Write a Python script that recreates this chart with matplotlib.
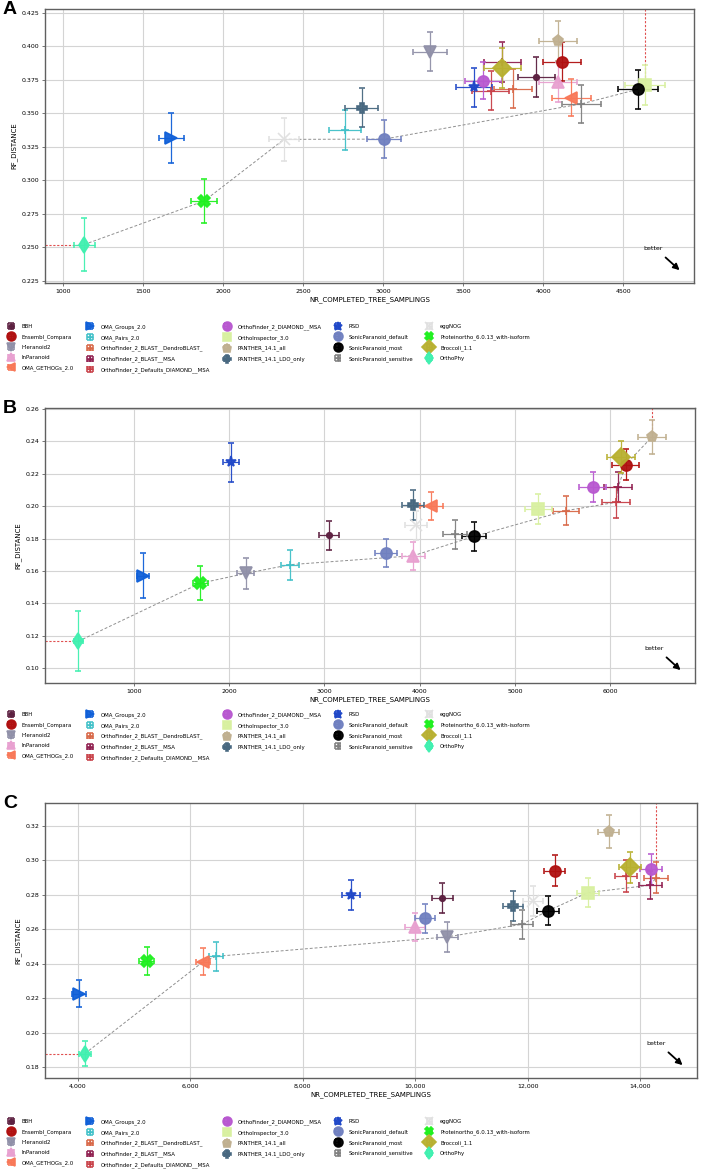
import numpy as np
import matplotlib
matplotlib.use('Agg')
import matplotlib.pyplot as plt
from matplotlib.ticker import MultipleLocator, FuncFormatter

plt.rcParams['font.family'] = 'DejaVu Sans'
plt.rcParams['font.size'] = 4.5

METHODS = ['BBH', 'Ensembl_Compara', 'Hieranoid2', 'InParanoid', 'OMA_GETHOGs_2.0',
           'OMA_Groups_2.0', 'OMA_Pairs_2.0', 'OrthoFinder_2_BLAST__DendroBLAST_',
           'OrthoFinder_2_BLAST__MSA', 'OrthoFinder_2_Defaults_DIAMOND__MSA',
           'OrthoFinder_2_DIAMOND__MSA', 'OrthoInspector_3.0', 'PANTHER_14.1_all',
           'PANTHER_14.1_LDO_only', 'RSD', 'SonicParanoid_default', 'SonicParanoid_most',
           'SonicParanoid_sensitive', 'eggNOG', 'Proteinortho_6.0.13_with-isoform',
           'Broccoli_1.1', 'OrthoPhy']

COLORS = ['#5c2040', '#b01010', '#9090a8', '#e8a0d0', '#f87858',
          '#1060d8', '#40c0c8', '#d86848', '#902050', '#c84048',
          '#b858d0', '#d8f0a0', '#c0b090', '#486880', '#2048c8',
          '#7080c0', '#000000', '#808080', '#e0e0e0', '#20f020',
          '#b8b030', '#40f0b0']

MARKERS = ['o', 'o', 'v', '^', '<', '>', '+', '+', '+', '+', 'o', 's', 'p', 'P', '*',
           'o', 'o', '+', 'x', 'X', 'D', 'd']
MSIZES = [4, 8, 8, 8, 8, 8, 6, 6, 6, 6, 8, 8, 8, 7, 8, 8, 8, 6, 8, 8, 9, 8]

# panel A
A_X = [3958, 4121, 3292, 4094, 4177, 1675, 2760, 3813, 3746, 3672, 3626, 4636, 4094, 2865,
       3567, 3006, 4594, 4240, 2380, 1880, 3746, 1130]
A_Y = [0.3769, 0.3885, 0.3960, 0.3736, 0.3617, 0.3315, 0.3373, 0.3682, 0.3885, 0.3669,
       0.3743, 0.3711, 0.4039, 0.3542, 0.3694, 0.3307, 0.3679, 0.3570, 0.3305, 0.2845,
       0.3838, 0.2520]
A_XERR = [117, 119, 108, 119, 120, 78, 100, 118, 115, 115, 115, 125, 119, 104, 112, 105,
          125, 120, 96, 82, 115, 65]
A_YERR = [0.0150, 0.0147, 0.0147, 0.0150, 0.0137, 0.0190, 0.0150, 0.0145, 0.0150, 0.0143,
          0.0140, 0.0150, 0.0147, 0.0145, 0.0145, 0.0140, 0.0147, 0.0143, 0.0160, 0.0162,
          0.0150, 0.0197]

# panel B
B_X = [3047, 6162, 2173, 3933, 4123, 1091, 2638, 5538, 6085, 6060, 5815, 5245, 6435, 3933,
       2018, 3646, 4570, 4370, 3961, 1693, 6113, 415]
B_Y = [0.1820, 0.2255, 0.1585, 0.1694, 0.2000, 0.1571, 0.1639, 0.1972, 0.2118, 0.2023,
       0.2115, 0.1982, 0.2423, 0.2007, 0.2269, 0.1711, 0.1813, 0.1826, 0.1882, 0.1524,
       0.2302, 0.1167]
B_XERR = [103, 145, 92, 120, 120, 65, 98, 137, 145, 145, 140, 140, 147, 116, 88, 117, 131,
          129, 120, 79, 143, 50]
B_YERR = [0.0088, 0.0096, 0.0094, 0.0085, 0.0086, 0.0139, 0.0092, 0.0090, 0.0093, 0.0095,
          0.0093, 0.0090, 0.0105, 0.0092, 0.0120, 0.0086, 0.0088, 0.0090, 0.0090, 0.0105,
          0.0101, 0.0185]

# panel C
C_X = [10483, 12474, 10572, 9992, 6233, 4028, 6459, 14282, 14175, 13749, 14188, 13068,
       13435, 11734, 8854, 10175, 12356, 11894, 12090, 5227, 13820, 4130]
C_Y = [0.2781, 0.2938, 0.2555, 0.2614, 0.2412, 0.2226, 0.2442, 0.2899, 0.2855, 0.2907,
       0.2947, 0.2812, 0.3165, 0.2732, 0.2798, 0.2663, 0.2706, 0.2628, 0.2761, 0.2414,
       0.2960, 0.1878]
C_XERR = [178, 193, 178, 175, 125, 127, 130, 213, 207, 194, 193, 200, 193, 183, 162, 175,
          192, 190, 185, 133, 195, 100]
C_YERR = [0.0087, 0.0090, 0.0085, 0.0080, 0.0080, 0.0077, 0.0083, 0.0090, 0.0082, 0.0092,
          0.0089, 0.0085, 0.0095, 0.0087, 0.0089, 0.0085, 0.0084, 0.0085, 0.0087, 0.0082,
          0.0090, 0.0072]

PANELS = [
    dict(label='A', x=A_X, y=A_Y, xerr=A_XERR, yerr=A_YERR, xlim=(885, 4944),
         ylim=(0.2233, 0.4278), xstep=500, ystep=0.025, yfmt='{:.3f}', comma=False,
         box=(45, 9, 694, 283), legend_row=327),
    dict(label='B', x=B_X, y=B_Y, xerr=B_XERR, yerr=B_YERR, xlim=(65, 6891),
         ylim=(0.091, 0.2604), xstep=1000, ystep=0.02, yfmt='{:.2f}', comma=False,
         box=(45, 408, 695, 683), legend_row=715),
    dict(label='C', x=C_X, y=C_Y, xerr=C_XERR, yerr=C_YERR, xlim=(3419, 15006),
         ylim=(0.1736, 0.3332), xstep=2000, ystep=0.02, yfmt='{:.2f}', comma=True,
         box=(45, 803, 697, 1078), legend_row=1122),
]

W, H = 703, 1172


def pareto_front(xs, ys):
    """points not beaten by any other one (more samplings, lower distance)"""
    order = np.argsort(xs)[::-1]
    front = []
    best = np.inf
    for i in order:
        if ys[i] < best:
            front.append(i)
            best = ys[i]
    return front[::-1]


fig = plt.figure(figsize=(W / 100, H / 100), dpi=100)

for p in PANELS:
    l, t, r, b = p['box']
    ax = fig.add_axes([l / W, 1 - b / H, (r - l) / W, (b - t) / H])
    ax.set_xlim(*p['xlim'])
    ax.set_ylim(*p['ylim'])

    ax.grid(True, color='#d4d4d4', linewidth=0.8)
    ax.set_axisbelow(True)
    for s in ax.spines.values():
        s.set_color('#606060')
        s.set_linewidth(1.0)

    xs = np.array(p['x'], dtype=float)
    ys = np.array(p['y'], dtype=float)

    # pareto front + guide lines
    idx = pareto_front(xs, ys)
    ax.plot(xs[idx], ys[idx], linestyle='--', color='#909090', linewidth=0.7,
            dashes=(3, 2), zorder=1)
    ax.plot([p['xlim'][0], xs[idx[0]]], [ys[idx[0]]] * 2, linestyle='--',
            color='#e05050', linewidth=0.8, dashes=(2, 1.5), zorder=1)
    ax.plot([xs[idx[-1]]] * 2, [ys[idx[-1]], p['ylim'][1]], linestyle='--',
            color='#e05050', linewidth=0.8, dashes=(2, 1.5), zorder=1)

    handles = []
    for i, name in enumerate(METHODS):
        h = ax.errorbar(xs[i], ys[i], xerr=p['xerr'][i], yerr=p['yerr'][i],
                        fmt=MARKERS[i], color=COLORS[i], ms=MSIZES[i], mew=1.2,
                        ecolor=COLORS[i], elinewidth=0.9, capsize=2.5, capthick=0.9,
                        alpha=0.95, label=name, zorder=3)
        handles.append(h)

    ax.xaxis.set_major_locator(MultipleLocator(p['xstep']))
    ax.yaxis.set_major_locator(MultipleLocator(p['ystep']))
    if p['comma']:
        ax.xaxis.set_major_formatter(FuncFormatter(lambda v, pos: f'{int(v):,}'))
    else:
        ax.xaxis.set_major_formatter(FuncFormatter(lambda v, pos: f'{int(v)}'))
    fmt = p['yfmt']
    ax.yaxis.set_major_formatter(FuncFormatter(lambda v, pos, fmt=fmt: fmt.format(v)))
    ax.tick_params(labelsize=4.5, length=2, width=0.6, color='#606060', pad=2)

    ax.set_xlabel('NR_COMPLETED_TREE_SAMPLINGS', fontsize=5, labelpad=2)
    ax.set_ylabel('RF_DISTANCE', fontsize=5, labelpad=3)

    ax.text(0.937, 0.12, 'better', transform=ax.transAxes, fontsize=4.5, ha='center')
    ax.annotate('', xy=(0.981, 0.04), xytext=(0.953, 0.10), xycoords='axes fraction',
                arrowprops=dict(arrowstyle='-|>', color='k', lw=1.3, mutation_scale=9))

    fig.text(3 / W, 1 - (t - 8) / H, p['label'], fontsize=14, fontweight='bold',
             family='Liberation Sans', va='top', ha='left')

    fig.legend(handles=handles, labels=METHODS, loc='upper left',
               bbox_to_anchor=(7 / W, 1 - (p['legend_row'] - 3) / H), ncol=5,
               frameon=False, fontsize=3.9, handlelength=1.4, handletextpad=1.3,
               columnspacing=2.3, labelspacing=0.95, borderaxespad=0, borderpad=0,
               markerscale=0.8)

fig.savefig('out.png', dpi=100)
